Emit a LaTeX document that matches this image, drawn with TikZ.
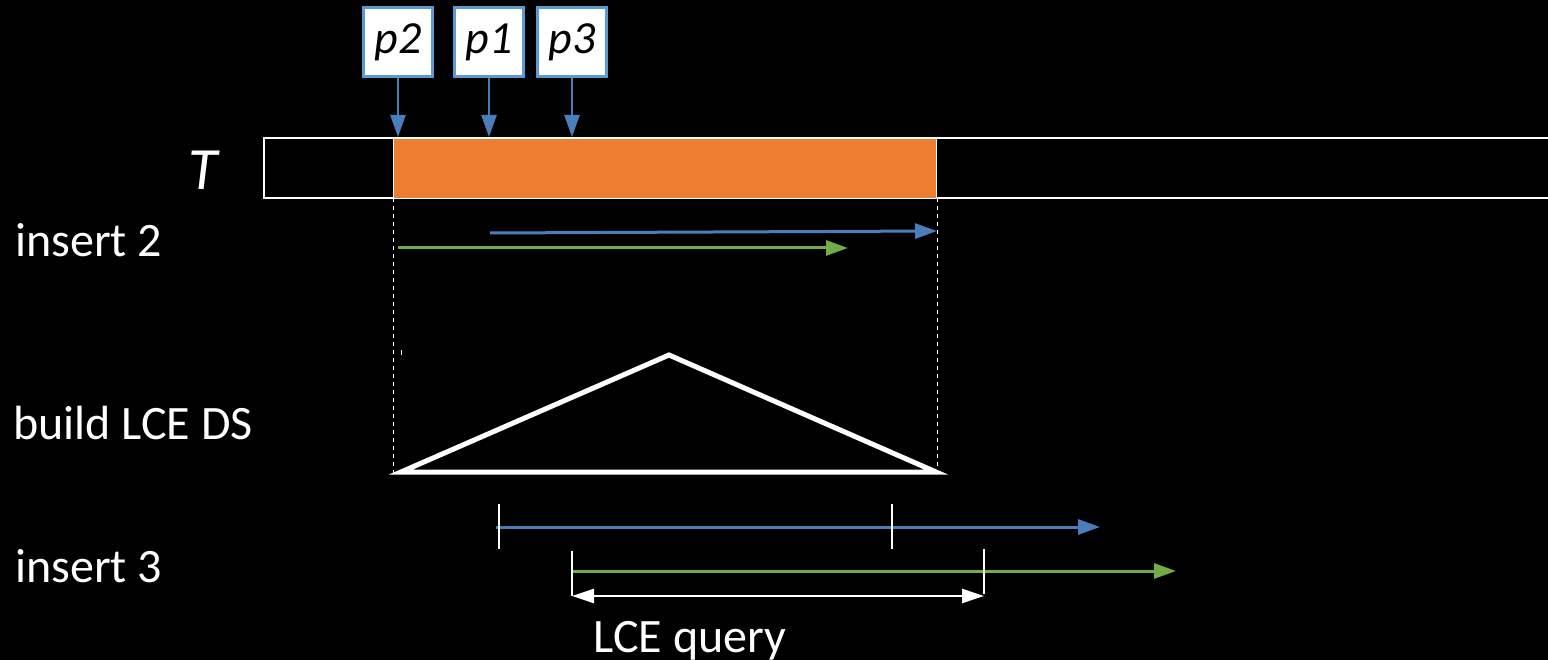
\documentclass[tikz,border=0pt]{standalone}
\usepackage{fontspec}
\setmainfont{Carlito}
\usetikzlibrary{arrows.meta,calc}
\definecolor{lceorange}{HTML}{ED7D31}
\definecolor{lceblue}{HTML}{4A7EBB}
\definecolor{boxblue}{HTML}{5B9BD5}
\definecolor{lcegreen}{HTML}{70AD47}

\begin{document}
\begin{tikzpicture}[x=1pt,y=-1pt,
    lbl/.style={text=white,font=\fontsize{48}{54}\selectfont,inner sep=0pt},
    posbox/.style={draw=boxblue,fill=white,line width=2.5pt,minimum width=69pt,
      minimum height=69pt,inner sep=0pt,font=\fontsize{46}{52}\selectfont\itshape},
    headtip/.style={-{Triangle[length=22pt,width=15pt]}},
    runarrow/.style={line width=3pt,headtip},
    endtick/.style={white,line width=2pt},
    guideline/.style={white,line width=1pt,dash pattern=on 4pt off 4pt}]
        % Background
        \useasboundingbox (0,0) rectangle (1548,660);
        \fill[black] (0,0) rectangle (1548,660);
        \clip (0,0) rectangle (1548,660);
        % Define points
        \coordinate (barTop) at (0,137);
        \coordinate (sL) at (393,198);
        \coordinate (sR) at (937,198);
        % Text T and the marked part
        \draw[white,line width=2pt] (264,138) rectangle (1570,198);
        \filldraw[fill=lceorange,draw=white,line width=0.8pt] (393,138) rectangle (936,198);
        \node[lbl,font=\fontsize{60}{66}\selectfont\itshape,anchor=base] (Tlabel) at (203,190) {T};
        % Positions
        \node[posbox] (p2) at (398,42) {p2};
        \node[posbox] (p1) at (489,42) {p1};
        \node[posbox] (p3) at (572,42) {p3};
        \foreach \b in {p2,p1,p3}
          \draw[lceblue,line width=2.5pt,headtip] (\b.south) -- (\b.south |- barTop);
        % Guides
        \draw[guideline] (sL) -- ++(0,276);
        \draw[guideline] (sR) -- ++(0,276);
        \draw[white,line width=0.6pt] (401,350) -- (401,355);
        % insert 2
        \node[lbl,anchor=base west] (ins2) at (15,257) {insert 2};
        \draw[lceblue,runarrow] (490,233) -- (937,231);
        \draw[lcegreen,runarrow] (398,248) -- (848,248);
        % LCE data structure
        \node[lbl,anchor=base west] (build) at (13,439) {build LCE DS};
        \draw[white,line width=5pt,line join=miter] (401,472) -- (669,355) -- (936,472) -- cycle;
        % insert 3
        \node[lbl,anchor=base west] (ins3) at (15,582) {insert 3};
        \draw[lceblue,runarrow] (496,527) -- (1100,527);
        \draw[endtick] (499,504) -- (499,549);
        \draw[endtick] (892,504) -- (892,549);
        \draw[lcegreen,runarrow] (572,571) -- (1176,571);
        \draw[endtick] (572,551) -- (572,596);
        \draw[endtick] (984,549) -- (984,594);
        \draw[white,line width=2.5pt,{Triangle[length=22pt,width=14pt]}-{Triangle[length=22pt,width=14pt]}]
          (572,596) -- (984,596);
        \node[lbl,anchor=base] (query) at (690,652) {LCE query};
\end{tikzpicture}
\end{document}
